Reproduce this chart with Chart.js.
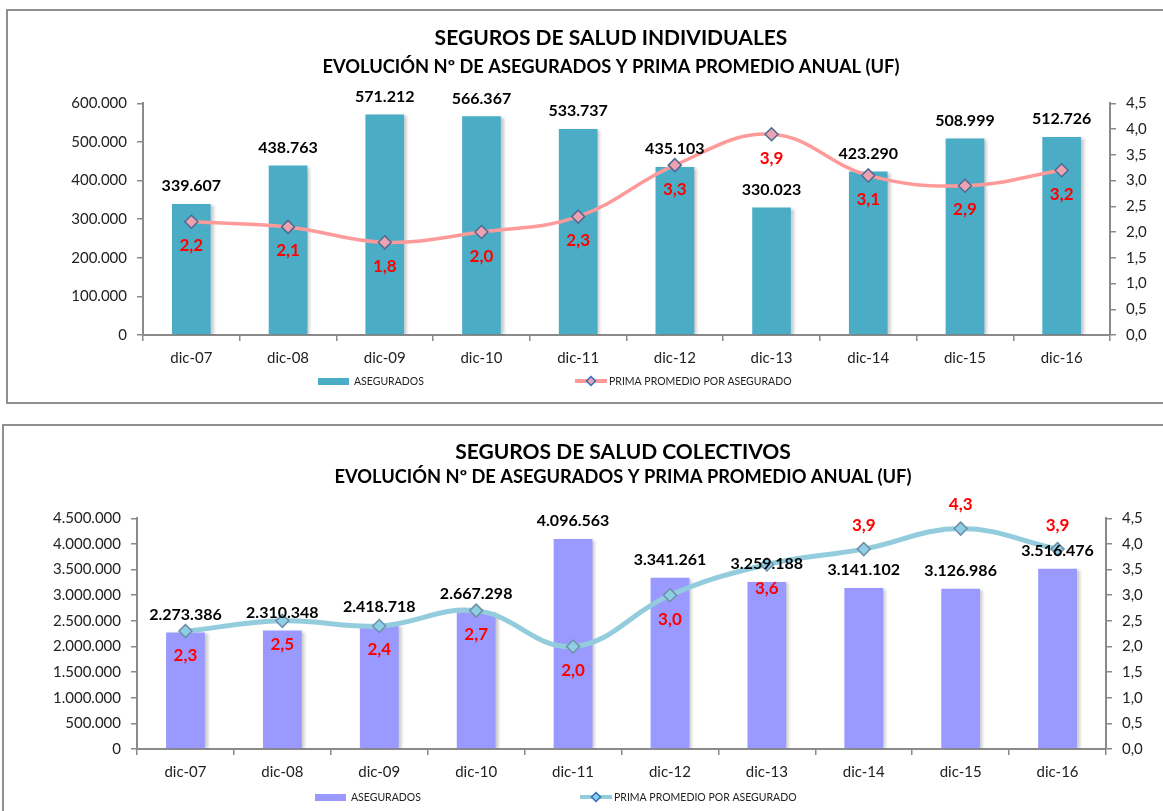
<!DOCTYPE html>
<html lang="es">
<head>
<meta charset="utf-8">
<title>Seguros de salud</title>
<script src="https://cdn.jsdelivr.net/npm/chart.js@4.4.1/dist/chart.umd.min.js"></script>
<style>
  html, body { margin: 0; padding: 0; background: #fff; overflow: hidden; }
  body { width: 1163px; height: 811px; position: relative; }
  .marco { position: absolute; border: 2px solid #8f8f8f; box-sizing: border-box; }
  #marco1 { left: 6px; top: 9px; width: 1220px; height: 395px; }
  #marco2 { left: 2px; top: 424px; width: 1250px; height: 420px; }
  canvas { position: absolute; }
  #graf1 { left: 8px; top: 11px; }
  #graf2 { left: 4px; top: 426px; }
</style>
</head>
<body>
<div class="marco" id="marco1"></div>
<div class="marco" id="marco2"></div>
<canvas id="graf1" width="1206" height="390" style="width:1206px;height:390px"></canvas>
<canvas id="graf2" width="1238" height="385" style="width:1238px;height:385px"></canvas>

<script>
/* datos */
const periodos = ['dic-07', 'dic-08', 'dic-09', 'dic-10', 'dic-11', 'dic-12', 'dic-13', 'dic-14', 'dic-15', 'dic-16'];

const asegIndividuales = [339607, 438763, 571212, 566367, 533737, 435103, 330023, 423290, 508999, 512726];
const primaIndividuales = [2.2, 2.1, 1.8, 2.0, 2.3, 3.3, 3.9, 3.1, 2.9, 3.2];

const asegColectivos = [2273386, 2310348, 2418718, 2667298, 4096563, 3341261, 3259188, 3141102, 3126986, 3516476];
const primaColectivos = [2.3, 2.5, 2.4, 2.7, 2.0, 3.0, 3.6, 3.9, 4.3, 3.9];

const ticksIndividuales = [0, 100000, 200000, 300000, 400000, 500000, 600000];
const ticksColectivos = [0, 500000, 1000000, 1500000, 2000000, 2500000, 3000000, 3500000, 4000000, 4500000];
const ticksPrima = [0, 0.5, 1, 1.5, 2, 2.5, 3, 3.5, 4, 4.5];

/* etiqueta de la prima sobre (true) o bajo (false) el punto */
const primaArribaInd = [false, false, false, false, false, false, false, false, false, false];
const primaArribaCol = [false, false, false, false, false, false, false, true, true, true];

const FUENTE = 'Lato, "Open Sans", sans-serif';
const GRIS_EJE = '#8a8a8a';

function miles(v) {
  return Math.round(v).toString().replace(/\B(?=(\d{3})+(?!\d))/g, '.');
}
function decimal(v) {
  return v.toFixed(1).replace('.', ',');
}

/* ============================================================
   plugins propios
   ============================================================ */

// sombra suave a la derecha de las barras
const sombraBarras = {
  id: 'sombraBarras',
  beforeDatasetDraw(chart, args) {
    const ctx = chart.ctx;
    ctx.save();
    if (args.meta.type === 'bar') {
      ctx.shadowColor = 'rgba(0,0,0,0.22)';
      ctx.shadowOffsetX = 3;
      ctx.shadowOffsetY = 1;
      ctx.shadowBlur = 3;
    }
  },
  afterDatasetDraw(chart) {
    chart.ctx.restore();
  }
};

// valores escritos sobre las barras y junto a los puntos
const etiquetas = {
  id: 'etiquetas',
  afterDatasetsDraw(chart, args, opts) {
    const ctx = chart.ctx;
    ctx.save();
    ctx.textAlign = 'center';
    ctx.textBaseline = 'middle';
    chart.data.datasets.forEach((ds, i) => {
      const meta = chart.getDatasetMeta(i);
      meta.data.forEach((el, j) => {
        const v = ds.data[j];
        if (meta.type === 'bar') {
          ctx.font = 'bold 16px ' + FUENTE;
          ctx.fillStyle = '#000';
          ctx.fillText(miles(v), el.x, el.y - 18);
        } else {
          ctx.font = 'bold 17px ' + FUENTE;
          ctx.fillStyle = '#ff0000';
          const dy = opts.arriba[j] ? -24 : 24;
          ctx.fillText(decimal(v), el.x, el.y + dy);
        }
      });
    });
    ctx.restore();
  }
};

// leyenda al pie, con la separación amplia de la planilla
const leyenda = {
  id: 'leyenda',
  afterDraw(chart, args, opts) {
    const ctx = chart.ctx;
    const [barras, linea] = chart.data.datasets;
    const y = opts.y;
    ctx.save();
    ctx.font = '10.5px ' + FUENTE;
    ctx.textBaseline = 'middle';

    ctx.fillStyle = barras.backgroundColor;
    ctx.fillRect(opts.barraX, y - 3, 31, 7);
    ctx.fillStyle = '#222';
    ctx.fillText(barras.label, opts.barraX + 36, y + 1);

    ctx.strokeStyle = linea.borderColor;
    ctx.lineWidth = 4;
    ctx.beginPath();
    ctx.moveTo(opts.lineaX, y);
    ctx.lineTo(opts.lineaX + 32, y);
    ctx.stroke();
    const cx = opts.lineaX + 16;
    ctx.beginPath();
    ctx.moveTo(cx, y - 4.5);
    ctx.lineTo(cx + 4.5, y);
    ctx.lineTo(cx, y + 4.5);
    ctx.lineTo(cx - 4.5, y);
    ctx.closePath();
    ctx.fillStyle = linea.pointBackgroundColor;
    ctx.fill();
    ctx.strokeStyle = '#2f6fc0';
    ctx.lineWidth = 1.5;
    ctx.stroke();
    ctx.fillStyle = '#222';
    ctx.fillText(linea.label, opts.lineaX + 34, y + 1);
    ctx.restore();
  }
};

/* ============================================================
   gráfico combinado barras + línea
   ============================================================ */
function ejeGrilla() {
  return {
    display: true,
    drawOnChartArea: false,
    drawTicks: true,
    tickLength: 6,
    color: GRIS_EJE,
    lineWidth: 1.5
  };
}

function crearGrafico(id, cfg) {
  return new Chart(document.getElementById(id), {
    type: 'bar',
    data: {
      labels: periodos,
      datasets: [
        {
          type: 'bar',
          label: 'ASEGURADOS',
          data: cfg.asegurados,
          backgroundColor: cfg.colorBarra,
          categoryPercentage: 1,
          barPercentage: 0.4,
          yAxisID: 'y',
          order: 1
        },
        {
          type: 'line',
          label: 'PRIMA PROMEDIO POR ASEGURADO',
          data: cfg.prima,
          borderColor: cfg.colorLinea,
          borderWidth: cfg.anchoLinea,
          tension: 0.4,
          pointStyle: 'rectRot',
          pointRadius: 6.5,
          pointBackgroundColor: cfg.colorPunto,
          pointBorderColor: cfg.bordePunto,
          pointBorderWidth: 1.5,
          yAxisID: 'y1',
          order: 0
        }
      ]
    },
    options: {
      responsive: false,
      animation: false,
      layout: { padding: { left: 0, right: 0, top: 0, bottom: cfg.padInf } },
      plugins: {
        legend: { display: false },
        tooltip: { enabled: false },
        title: {
          display: true,
          text: cfg.titulo,
          color: '#000',
          font: { family: FUENTE, size: 21, weight: 'bold' },
          padding: { top: cfg.padTitulo, bottom: 0 }
        },
        subtitle: {
          display: true,
          text: 'EVOLUCIÓN Nº DE ASEGURADOS Y PRIMA PROMEDIO ANUAL (UF)',
          color: '#000',
          font: { family: FUENTE, size: 18.3, weight: 'bold' },
          padding: { top: cfg.padSub[0], bottom: cfg.padSub[1] }
        },
        etiquetas: { arriba: cfg.arriba },
        leyenda: cfg.leyenda
      },
      scales: {
        x: {
          grid: ejeGrilla(),
          border: { color: GRIS_EJE, width: 2 },
          ticks: { color: '#222', padding: 8, font: { family: FUENTE, size: 15 } },
          afterFit: s => { s.height = 31; }
        },
        y: {
          position: 'left',
          min: 0,
          max: cfg.ticksIzq[cfg.ticksIzq.length - 1],
          afterBuildTicks: s => { s.ticks = cfg.ticksIzq.map(v => ({ value: v })); },
          grid: ejeGrilla(),
          border: { color: GRIS_EJE, width: 2 },
          ticks: { color: '#222', padding: 10, font: { family: FUENTE, size: 15 }, callback: v => miles(v) },
          afterFit: s => { s.width = cfg.anchoIzq; }
        },
        y1: {
          position: 'right',
          min: 0,
          max: 4.5,
          afterBuildTicks: s => { s.ticks = ticksPrima.map(v => ({ value: v })); },
          grid: ejeGrilla(),
          border: { color: GRIS_EJE, width: 2 },
          ticks: { color: '#222', padding: 10, font: { family: FUENTE, size: 15 }, callback: v => decimal(v) },
          afterFit: s => { s.width = cfg.anchoDer; }
        }
      }
    },
    plugins: [sombraBarras, etiquetas, leyenda]
  });
}

crearGrafico('graf1', {
  titulo: 'SEGUROS DE SALUD INDIVIDUALES',
  asegurados: asegIndividuales,
  prima: primaIndividuales,
  ticksIzq: ticksIndividuales,
  arriba: primaArribaInd,
  colorBarra: '#4bacc6',
  colorLinea: '#ff9a9a',
  anchoLinea: 3.5,
  colorPunto: '#eda2b2',
  bordePunto: '#4e6b92',
  anchoIzq: 135,
  anchoDer: 104,
  padInf: 35,
  padTitulo: 14.4,
  padSub: [5.6, 25.2],
  leyenda: { y: 370, barraX: 310, lineaX: 567 }
});

crearGrafico('graf2', {
  titulo: 'SEGUROS DE SALUD COLECTIVOS',
  asegurados: asegColectivos,
  prima: primaColectivos,
  ticksIzq: ticksColectivos,
  arriba: primaArribaCol,
  colorBarra: '#9999ff',
  colorLinea: '#93cddd',
  anchoLinea: 5,
  colorPunto: '#8fcfe6',
  bordePunto: '#6f8fa6',
  anchoIzq: 133,
  anchoDer: 136,
  padInf: 31,
  padTitulo: 13.4,
  padSub: [1.6, 30.2],
  leyenda: { y: 371, barraX: 311, lineaX: 576 }
});
</script>
</body>
</html>
